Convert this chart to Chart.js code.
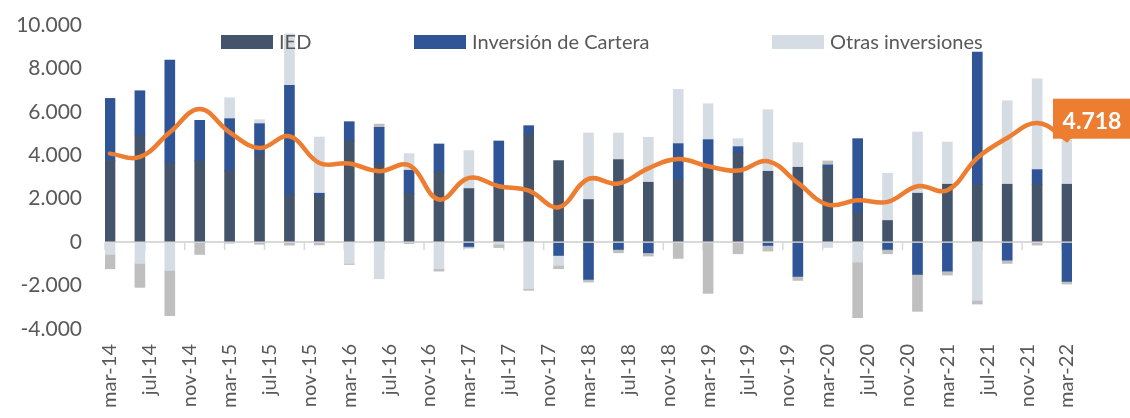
<!DOCTYPE html>
<html lang="es">
<head>
<meta charset="utf-8">
<script src="https://cdn.jsdelivr.net/npm/chart.js@4.4.1/dist/chart.umd.min.js"></script>
<style>
  html, body { margin: 0; padding: 0; background: #fff; }
  #wrap { position: relative; width: 1130px; height: 418px; }
  #leyenda .item { position: absolute; top: 31px; font: 20px Lato, sans-serif; line-height: 20px; color: #595959; white-space: nowrap; }
  #leyenda .caja { position: absolute; top: 35px; width: 52px; height: 14px; }
</style>
</head>
<body>
<div id="wrap">
  <canvas id="grafico" width="1130" height="418"></canvas>
  <div id="leyenda"></div>
</div>
<script>
// Trimestres (una barra por trimestre)
const trimestres = ["mar-14","jun-14","sep-14","dic-14","mar-15","jun-15","sep-15","dic-15",
  "mar-16","jun-16","sep-16","dic-16","mar-17","jun-17","sep-17","dic-17",
  "mar-18","jun-18","sep-18","dic-18","mar-19","jun-19","sep-19","dic-19",
  "mar-20","jun-20","sep-20","dic-20","mar-21","jun-21","sep-21","dic-21","mar-22"];

// Series (millones US$)
const ied = [3755,4935,3648,3739,3280,4061,2176,2130,4659,3602,2222,3234,2467,2498,4950,3755,
  1962,3801,2759,2866,3372,4107,3264,3448,3418,1349,996,2253,2667,2667,2667,2667,2667];
const cartera = [2865,2038,4735,1870,2406,1395,5042,123,889,1685,1088,1287,-200,2161,414,-613,
  -1716,-337,-490,1670,1348,291,-153,-1579,138,3417,-337,-1487,-1333,6084,-828,674,-1808];
const otras = [-567,-981,-1303,0,965,184,2377,2590,-981,-1686,767,-1226,1748,-100,-2146,-460,
  3065,1226,2069,2498,1655,368,2836,1134,-245,-920,2176,2820,1946,-2682,3846,4184,2023];
const derivados = [-660,-1103,-2084,-567,-50,-100,-140,-130,-50,150,-70,-110,-75,-150,-75,-153,
  -123,-153,-153,-751,-2360,-536,-260,-184,184,-2559,-199,-1701,-184,-169,-153,-138,-123];
const total = [4077,3923,5057,6130,5057,4337,4874,3648,3617,3264,3540,1962,2958,2575,2375,1609,
  2912,2697,3400,3831,3494,3295,3724,2728,1724,1931,1854,2575,2391,3877,4797,5487,4718];

// Eje mensual: mar-14 ... mar-22, etiqueta cada 4 meses
const mesesNombre = ["ene","feb","mar","abr","may","jun","jul","ago","sep","oct","nov","dic"];
const meses = [];
for (let a = 2014; a <= 2022; a++) {
  for (let m = 0; m < 12; m++) {
    if ((a === 2014 && m < 2) || (a === 2022 && m > 2)) continue;
    meses.push(mesesNombre[m] + "-" + String(a).slice(2));
  }
}

// pasa la serie trimestral al eje mensual (null en meses sin dato)
function aMensual(serie) {
  return meses.map(mes => {
    const i = trimestres.indexOf(mes);
    return i >= 0 ? serie[i] : null;
  });
}

const colores = { ied: "#44546A", cartera: "#2F5597", otras: "#D6DCE4", derivados: "#BFBFBF", total: "#ED7D31" };
const fuente = "Lato, 'Open Sans', sans-serif";
const gris = "#595959";

const formato = v => String(v).replace(/\B(?=(\d{3})+(?!\d))/g, ".");

// marcas pequeñas bajo la línea del cero
const marcasCero = {
  id: "marcasCero",
  beforeDatasetsDraw(chart) {
    const x = chart.scales.x, y = chart.scales.y;
    const ancho = (x.getPixelForValue(1) - x.getPixelForValue(0));
    const y0 = y.getPixelForValue(0);
    const ctx = chart.ctx;
    ctx.save();
    ctx.strokeStyle = "#D9D9D9";
    ctx.lineWidth = 1.5;
    for (let i = 0; i < meses.length; i += 4) {
      const px = x.getPixelForValue(i) - ancho / 2;
      ctx.beginPath();
      ctx.moveTo(px, y0);
      ctx.lineTo(px, y0 + 8);
      ctx.stroke();
    }
    ctx.restore();
  }
};

// etiqueta del último valor de la línea
const etiquetaFinal = {
  id: "etiquetaFinal",
  afterDatasetsDraw(chart) {
    const meta = chart.getDatasetMeta(4);
    const datos = chart.data.datasets[4].data;
    let idx = datos.length - 1;
    while (idx >= 0 && datos[idx] == null) idx--;
    const pt = meta.data[idx];
    const ctx = chart.ctx;
    ctx.save();
    ctx.fillStyle = colores.total;
    ctx.fillRect(pt.x - 14, pt.y - 41, 78, 40);
    ctx.beginPath();
    ctx.moveTo(pt.x - 5, pt.y - 2);
    ctx.lineTo(pt.x + 5, pt.y - 2);
    ctx.lineTo(pt.x, pt.y + 3);
    ctx.closePath();
    ctx.fill();
    ctx.fillStyle = "#fff";
    ctx.font = "bold 23px " + fuente;
    ctx.textAlign = "center";
    ctx.textBaseline = "alphabetic";
    ctx.fillText(formato(datos[idx]), pt.x + 25, pt.y - 11);
    ctx.restore();
  }
};

const ctx = document.getElementById("grafico").getContext("2d");

const grafico = new Chart(ctx, {
  type: "bar",
  data: {
    labels: meses,
    datasets: [
      { label: "IED", data: aMensual(ied), backgroundColor: colores.ied, order: 1 },
      { label: "Inversión de Cartera", data: aMensual(cartera), backgroundColor: colores.cartera, order: 1 },
      { label: "Otras inversiones", data: aMensual(otras), backgroundColor: colores.otras, order: 1 },
      { label: "Derivados financieros", data: aMensual(derivados), backgroundColor: colores.derivados, order: 1 },
      {
        type: "line", label: "Total", data: aMensual(total), stack: "linea", order: 0,
        borderColor: colores.total, borderWidth: 4.5, pointRadius: 0, tension: 0.4,
        spanGaps: true, fill: false, borderCapStyle: "round"
      }
    ]
  },
  options: {
    responsive: false,
    animation: false,
    layout: { padding: { top: 25, right: 58, left: 0, bottom: 0 } },
    datasets: { bar: { barThickness: 10, borderWidth: 0 } },
    plugins: { legend: { display: false }, tooltip: { enabled: false } },
    scales: {
      x: {
        stacked: true,
        offset: true,
        grid: { display: false, drawTicks: false },
        border: { display: false },
        ticks: {
          autoSkip: false, maxRotation: 90, minRotation: 90, padding: 15,
          color: gris, font: { family: fuente, size: 20 },
          callback: function (v, i) { return i % 4 === 0 ? this.getLabelForValue(v) : ""; }
        },
        afterFit(s) { s.height = 89; }
      },
      y: {
        stacked: true,
        min: -4000,
        max: 10000,
        grid: {
          drawTicks: true,
          tickLength: 20,
          tickColor: "transparent",
          lineWidth: 2,
          color: c => (c.tick && c.tick.value === 0 ? "#D9D9D9" : "transparent")
        },
        border: { display: false },
        ticks: {
          stepSize: 2000, padding: 3, color: gris,
          font: { family: fuente, size: 21 },
          callback: v => formato(v)
        },
        afterFit(s) { s.width = 105; }
      }
    }
  },
  plugins: [marcasCero, etiquetaFinal]
});

// Leyenda (sobre el área del gráfico, como en el original)
const posLeyenda = [221, 414, 772];
const leyenda = document.getElementById("leyenda");
grafico.data.datasets.slice(0, 3).forEach((ds, i) => {
  const caja = document.createElement("span");
  caja.className = "caja";
  caja.style.left = posLeyenda[i] + "px";
  caja.style.background = ds.backgroundColor;
  const txt = document.createElement("span");
  txt.className = "item";
  txt.style.left = (posLeyenda[i] + 58) + "px";
  txt.textContent = ds.label;
  leyenda.appendChild(caja);
  leyenda.appendChild(txt);
});
</script>
</body>
</html>
